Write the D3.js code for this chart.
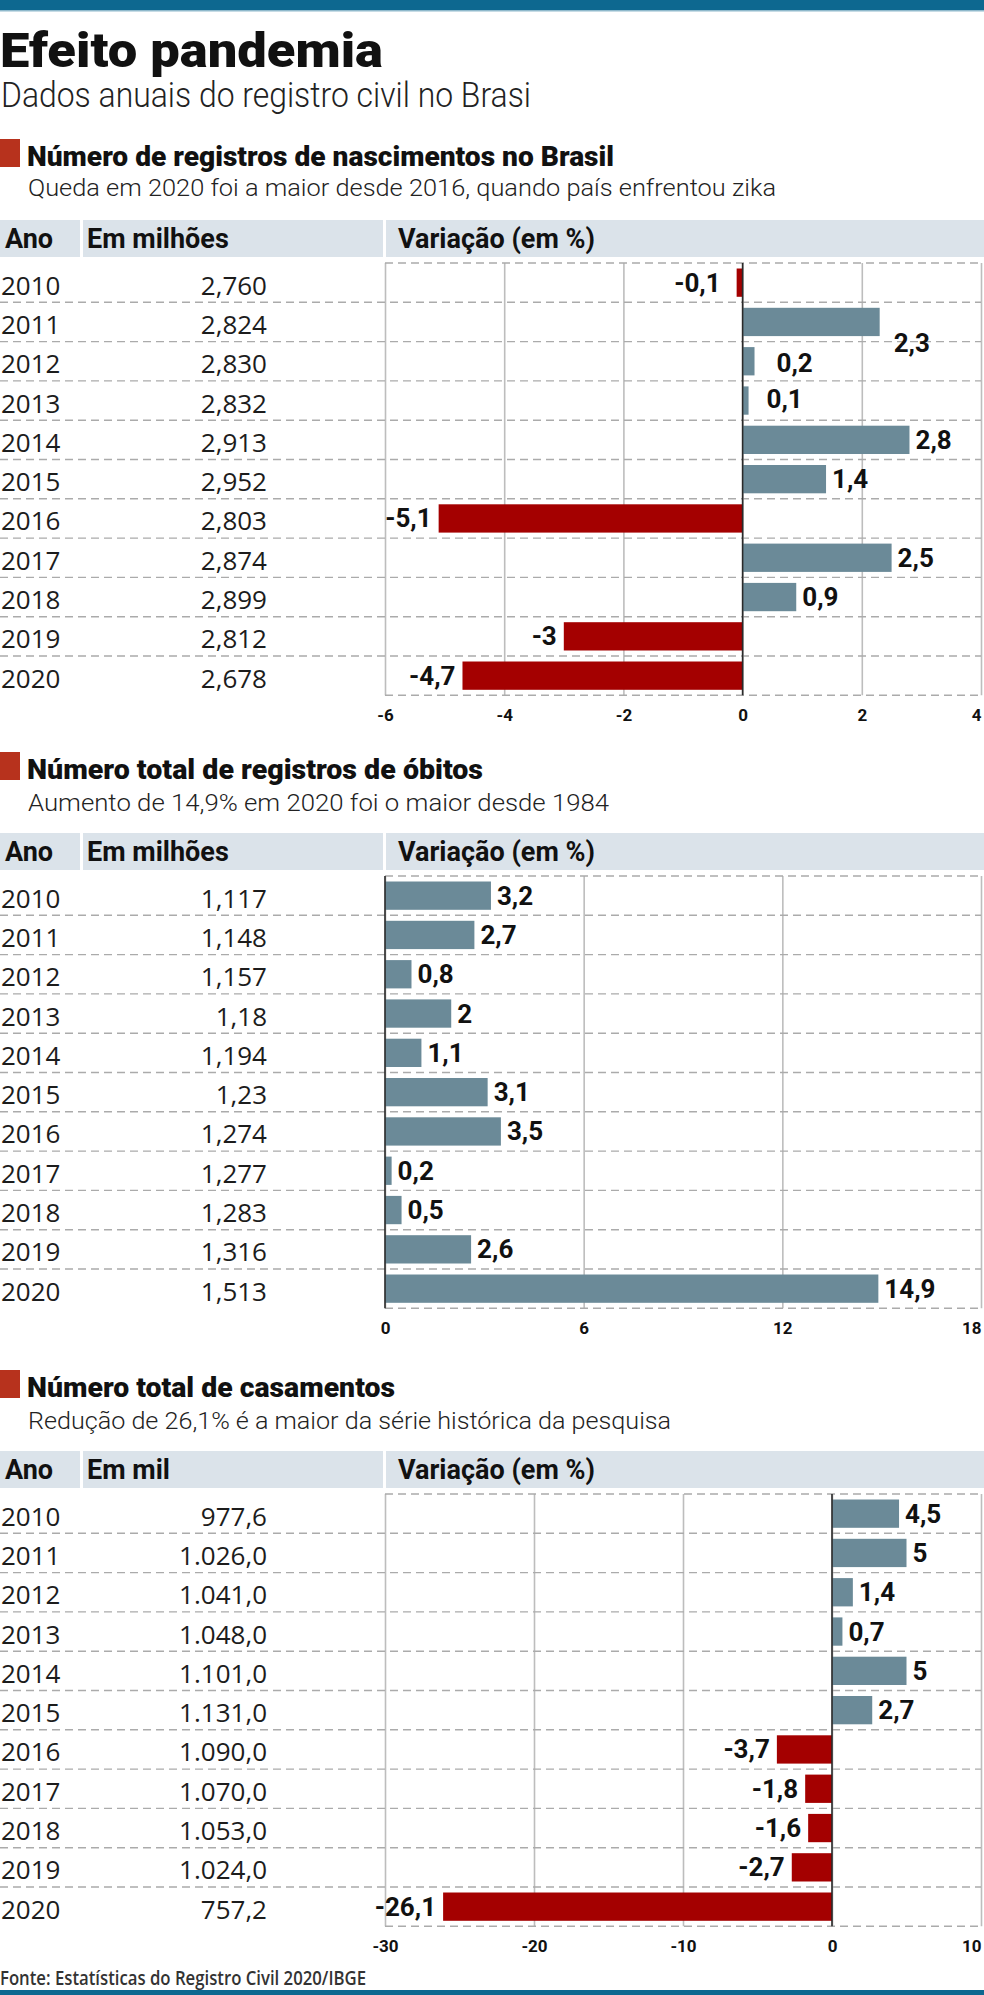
<!DOCTYPE html>
<html>
<head>
<meta charset="utf-8">
<script src="https://cdn.jsdelivr.net/npm/d3@7"></script>
<style>
  html, body { margin: 0; padding: 0; background: #fff; }
  svg { display: block; }
</style>
</head>
<body>
<svg id="chart" width="984" height="1995"></svg>
<script>
// ---------------- DATA ----------------
const years = ["2010","2011","2012","2013","2014","2015","2016","2017","2018","2019","2020"];

const birthsTotal = ["2,760","2,824","2,830","2,832","2,913","2,952","2,803","2,874","2,899","2,812","2,678"];
const birthsVariation = [-0.1, 2.3, 0.2, 0.1, 2.8, 1.4, -5.1, 2.5, 0.9, -3, -4.7];
const birthsTicks = [-6, -4, -2, 0, 2, 4];

const deathsTotal = ["1,117","1,148","1,157","1,18","1,194","1,23","1,274","1,277","1,283","1,316","1,513"];
const deathsVariation = [3.2, 2.7, 0.8, 2, 1.1, 3.1, 3.5, 0.2, 0.5, 2.6, 14.9];
const deathsTicks = [0, 6, 12, 18];

const marriagesTotal = ["977,6","1.026,0","1.041,0","1.048,0","1.101,0","1.131,0","1.090,0","1.070,0","1.053,0","1.024,0","757,2"];
const marriagesVariation = [4.5, 5, 1.4, 0.7, 5, 2.7, -3.7, -1.8, -1.6, -2.7, -26.1];
const marriagesTicks = [-30, -20, -10, 0, 10];

const titleText = "Efeito pandemia";
const subtitleText = "Dados anuais do registro civil no Brasi";
const sourceText = "Fonte: Estatísticas do Registro Civil 2020/IBGE";

const sections = [
  { title: "Número de registros de nascimentos no Brasil",
    subtitle: "Queda em 2020 foi a maior desde 2016, quando país enfrentou zika",
    unit: "Em milhões", totals: birthsTotal, variation: birthsVariation, ticks: birthsTicks },
  { title: "Número total de registros de óbitos",
    subtitle: "Aumento de 14,9% em 2020 foi o maior desde 1984",
    unit: "Em milhões", totals: deathsTotal, variation: deathsVariation, ticks: deathsTicks },
  { title: "Número total de casamentos",
    subtitle: "Redução de 26,1% é a maior da série histórica da pesquisa",
    unit: "Em mil", totals: marriagesTotal, variation: marriagesVariation, ticks: marriagesTicks }
];

// ---------------- LAYOUT / STYLE ----------------
const layout = [
  { titleBase: 166, titleW: 587, subW: 748, subGap: 30,
    nudge: { "2010": [-9, 0], "2011": [8, 21], "2012": [16, 2], "2013": [12, -2] } },
  { titleBase: 779, titleW: 456, subW: 581, subGap: 32, nudge: {} },
  { titleBase: 1397, titleW: 368, subW: 643, subGap: 32, nudge: {} }
];
const plotLeft = 385, plotRight = 981;
const rowStep = 39.3;
const C = {
  topBar: "#0d6890", topLine: "#8fb9cc", red: "#b7321d",
  band: "#dbe3ea", neg: "#a40000", pos: "#6b8a98",
  grid: "#bdbdbd", dash: "#ababab", zero: "#2a2a2a", text: "#1c1c1c"
};
const fBold = "Roboto, 'Liberation Sans', Arial, sans-serif";
const fLight = "Roboto, 'Liberation Sans', Arial, sans-serif";
const fNum = "'Open Sans', 'Liberation Sans', Arial, sans-serif";

const svg = d3.select("#chart");
const fmt = v => String(v).replace(".", ",");

// Top & bottom bars
svg.append("rect").attr("x", 0).attr("y", 0).attr("width", 984).attr("height", 10).attr("fill", C.topBar);
svg.append("rect").attr("x", 0).attr("y", 10).attr("width", 984).attr("height", 1.5).attr("fill", C.topLine);
svg.append("rect").attr("x", 0).attr("y", 1990).attr("width", 984).attr("height", 5).attr("fill", C.topBar);

// Title
svg.append("text").attr("x", 0).attr("y", 67)
  .attr("font-family", fBold).attr("font-weight", 900).attr("font-size", 49)
  .attr("fill", "#111").attr("textLength", 383).attr("lengthAdjust", "spacingAndGlyphs")
  .text(titleText);
svg.append("text").attr("x", 1).attr("y", 107)
  .attr("font-family", fLight).attr("font-weight", 300).attr("font-size", 35)
  .attr("fill", "#222").attr("textLength", 530).attr("lengthAdjust", "spacingAndGlyphs")
  .text(subtitleText);

// Source
svg.append("text").attr("x", 0).attr("y", 1985)
  .attr("font-family", fNum).attr("font-weight", 600).attr("font-size", 20)
  .attr("fill", "#333").attr("textLength", 366).attr("lengthAdjust", "spacingAndGlyphs")
  .text(sourceText);

sections.forEach((s, i) => {
  const L = layout[i];
  const g = svg.append("g");
  const tb = L.titleBase;

  // section title
  g.append("rect").attr("x", 0).attr("y", tb - 27).attr("width", 20).attr("height", 28).attr("fill", C.red);
  g.append("text").attr("x", 27).attr("y", tb)
    .attr("font-family", fBold).attr("font-weight", 900).attr("font-size", 28)
    .attr("fill", "#111").attr("textLength", L.titleW).attr("lengthAdjust", "spacingAndGlyphs")
    .text(s.title);
  g.append("text").attr("x", 28).attr("y", tb + L.subGap)
    .attr("font-family", fLight).attr("font-weight", 300).attr("font-size", 24)
    .attr("fill", "#222").attr("textLength", L.subW).attr("lengthAdjust", "spacingAndGlyphs")
    .text(s.subtitle);

  // header band
  const bandTop = tb + 54;
  g.append("rect").attr("x", 0).attr("y", bandTop).attr("width", 80).attr("height", 37).attr("fill", C.band);
  g.append("rect").attr("x", 83).attr("y", bandTop).attr("width", 300).attr("height", 37).attr("fill", C.band);
  g.append("rect").attr("x", 386).attr("y", bandTop).attr("width", 598).attr("height", 37).attr("fill", C.band);
  const hdr = [["Ano", 5], [s.unit, 87], ["Variação (em %)", 398]];
  hdr.forEach(([t, x]) => {
    g.append("text").attr("x", x).attr("y", bandTop + 28)
      .attr("font-family", fBold).attr("font-weight", 700).attr("font-size", 27)
      .attr("fill", "#111").text(t);
  });

  // scales
  const plotTop = bandTop + 43;
  const plotBottom = plotTop + rowStep * years.length;
  const y = d3.scaleBand().domain(years).range([plotTop, plotBottom])
    .paddingInner(0.28).paddingOuter(0.14);
  const ext = d3.extent(s.ticks);
  const x = d3.scaleLinear().domain(ext).range([plotLeft, plotRight]);

  // vertical grid via axis
  const grid = g.append("g").attr("transform", `translate(0,${plotBottom})`)
    .call(d3.axisBottom(x).tickValues(s.ticks).tickSize(-(plotBottom - plotTop)).tickFormat(""));
  grid.select(".domain").remove();
  grid.selectAll("line").attr("stroke", C.grid).attr("stroke-width", 1.6);

  // dashed horizontal lines
  const step = y.step();
  const rowLines = d3.range(years.length + 1);
  g.selectAll("line.row").data(rowLines).join("line")
    .attr("class", "row")
    .attr("x1", k => (k === 0 || k === years.length) ? plotLeft : 0)
    .attr("x2", plotRight)
    .attr("y1", k => plotTop + k * step).attr("y2", k => plotTop + k * step)
    .attr("stroke", C.dash).attr("stroke-width", 1.4).attr("stroke-dasharray", "8,5");

  // table text
  const rows = years.map((yr, k) => ({ yr, total: s.totals[k], v: s.variation[k] }));
  const rowCenter = d => y(d.yr) + y.bandwidth() / 2;
  g.selectAll("text.yr").data(rows).join("text").attr("class", "yr")
    .attr("x", 1).attr("y", d => rowCenter(d) + 12)
    .attr("font-family", fNum).attr("font-size", 26).attr("fill", C.text)
    .text(d => d.yr);
  g.selectAll("text.tot").data(rows).join("text").attr("class", "tot")
    .attr("x", 267).attr("y", d => rowCenter(d) + 12).attr("text-anchor", "end")
    .attr("font-family", fNum).attr("font-size", 26).attr("fill", C.text)
    .text(d => d.total);

  // bars
  g.selectAll("rect.bar").data(rows).join("rect").attr("class", "bar")
    .attr("x", d => Math.min(x(0), x(d.v)))
    .attr("width", d => Math.abs(x(d.v) - x(0)))
    .attr("y", d => y(d.yr)).attr("height", y.bandwidth())
    .attr("fill", d => d.v < 0 ? C.neg : C.pos);

  // zero line
  g.append("line").attr("x1", x(0)).attr("x2", x(0)).attr("y1", plotTop).attr("y2", plotBottom)
    .attr("stroke", C.zero).attr("stroke-width", 1.6);

  // bar labels
  const nd = d => L.nudge[d.yr] || [0, 0];
  g.selectAll("text.lab").data(rows).join("text").attr("class", "lab")
    .attr("x", d => (d.v < 0 ? x(d.v) - 7 : x(d.v) + 6) + nd(d)[0])
    .attr("y", d => rowCenter(d) + 9 + nd(d)[1])
    .attr("text-anchor", d => d.v < 0 ? "end" : "start")
    .attr("font-family", fBold).attr("font-weight", 700).attr("font-size", 26)
    .attr("fill", "#111")
    .text(d => fmt(d.v));

  // tick labels via axis
  const ax = g.append("g").attr("transform", `translate(0,${plotBottom})`)
    .call(d3.axisBottom(x).tickValues(s.ticks).tickSize(0).tickPadding(14).tickFormat(d => String(d)));
  ax.select(".domain").remove();
  ax.selectAll("text")
    .attr("font-family", fBold).attr("font-weight", 700).attr("font-size", 17)
    .attr("fill", "#111")
    .attr("text-anchor", (d, k, n) => k === n.length - 1 ? "end" : "middle");
});
</script>
</body>
</html>
